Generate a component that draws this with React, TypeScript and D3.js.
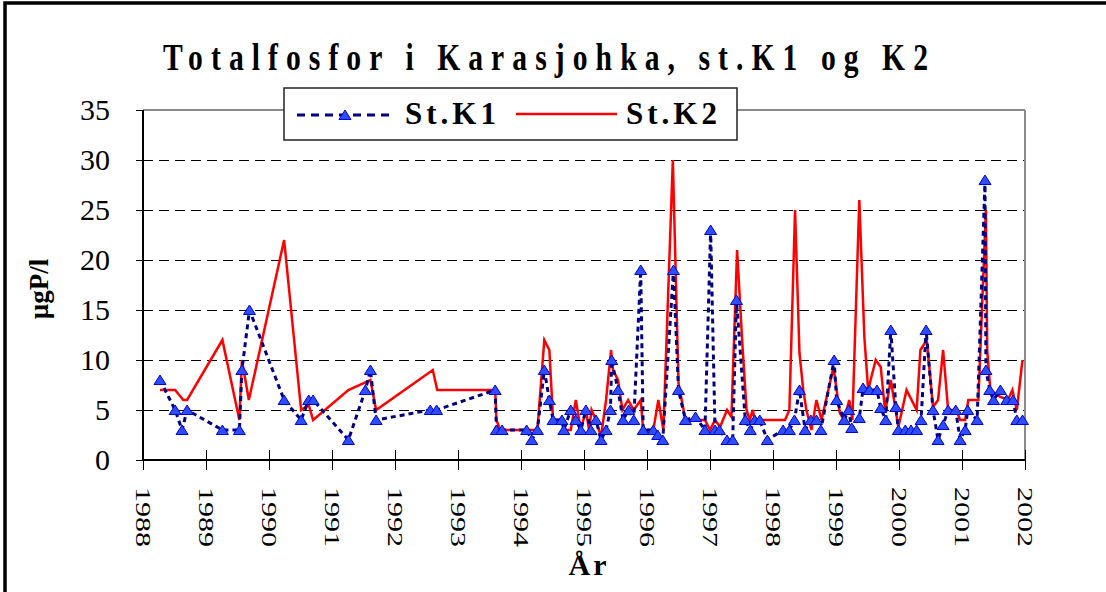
import React from "react";
import * as d3 from "d3";

// St.K1 - prøvetidspunkt (desimalår) og totalfosfor (µgP/l)
const k1Years = [
  1988.27, 1988.51, 1988.62, 1988.7, 1989.26, 1989.53, 1989.57, 1989.69, 1990.24, 1990.51,
  1990.63, 1990.7, 1991.26, 1991.53, 1991.61, 1991.7, 1992.56, 1992.66, 1993.59, 1993.61,
  1993.7, 1994.09, 1994.17, 1994.26, 1994.37, 1994.45, 1994.51, 1994.65, 1994.68, 1994.79,
  1994.87, 1994.95, 1995.03, 1995.11, 1995.19, 1995.27, 1995.35, 1995.42, 1995.44, 1995.54,
  1995.62, 1995.71, 1995.79, 1995.9, 1995.94, 1996.1, 1996.17, 1996.25, 1996.42, 1996.5,
  1996.61, 1996.77, 1996.92, 1997.01, 1997.08, 1997.15, 1997.27, 1997.36, 1997.42, 1997.56,
  1997.64, 1997.71, 1997.79, 1997.91, 1998.16, 1998.26, 1998.34, 1998.42, 1998.51, 1998.6,
  1998.69, 1998.76, 1998.97, 1999.01, 1999.13, 1999.2, 1999.25, 1999.37, 1999.43, 1999.53,
  1999.65, 1999.71, 1999.79, 1999.87, 1999.95, 1999.99, 2000.1, 2000.19, 2000.28, 2000.35,
  2000.43, 2000.54, 2000.62, 2000.7, 2000.78, 2000.9, 2000.97, 2001.05, 2001.09, 2001.24,
  2001.365, 2001.38, 2001.44, 2001.5, 2001.61, 2001.71, 2001.81, 2001.87, 2001.96,
];
const k1Values = [
  8, 5, 3, 5, 3, 3, 9, 15, 6, 4,
  6, 6, 2, 7, 9, 4, 5, 5, 7, 3,
  3, 3, 2, 3, 9, 6, 4, 4, 3, 5,
  4, 3, 5, 3, 4, 2, 3, 5, 10, 7,
  4, 5, 4, 19, 3, 3, 2.5, 2, 19, 7,
  4, 4.3, 3, 23, 3, 3, 2, 2, 16, 4,
  3, 4, 4, 2, 3, 3, 4, 7, 3, 4,
  4, 3, 10, 6, 4, 5, 3.2, 4.2, 7.2, 7,
  7, 5.2, 4, 13, 5.3, 3, 3, 3, 3, 4,
  13, 5, 2, 3.5, 5, 5, 2, 3, 5, 4,
  28, 9, 7, 6, 7, 6, 6, 4, 4,
];

// St.K2
const k2Years = [
  1988.27, 1988.51, 1988.64, 1988.7, 1989.26, 1989.53, 1989.57, 1989.68, 1990.24, 1990.51,
  1990.63, 1990.7, 1991.26, 1991.61, 1991.7, 1992.6, 1992.67, 1993.59, 1993.61, 1993.67,
  1994.26, 1994.37, 1994.45, 1994.51, 1994.65, 1994.68, 1994.79, 1994.87, 1994.95, 1995.03,
  1995.08, 1995.12, 1995.19, 1995.27, 1995.35, 1995.43, 1995.46, 1995.54, 1995.61, 1995.7,
  1995.79, 1995.9, 1995.94, 1996.1, 1996.18, 1996.26, 1996.41, 1996.5, 1996.61, 1996.92,
  1997.0, 1997.08, 1997.16, 1997.27, 1997.34, 1997.43, 1997.51, 1997.58, 1997.63, 1997.68,
  1997.71, 1997.9, 1998.19, 1998.26, 1998.35, 1998.42, 1998.48, 1998.53, 1998.61, 1998.69,
  1998.77, 1998.96, 1999.06, 1999.13, 1999.21, 1999.26, 1999.37, 1999.45, 1999.51, 1999.63,
  1999.71, 1999.78, 1999.87, 1999.99, 2000.12, 2000.28, 2000.34, 2000.44, 2000.54, 2000.62,
  2000.7, 2000.78, 2000.91, 2000.97, 2001.05, 2001.1, 2001.26, 2001.38, 2001.4, 2001.45,
  2001.61, 2001.73, 2001.8, 2001.87, 2001.96,
];
const k2Values = [
  7, 7, 6, 6, 12, 4, 10, 6, 22, 5,
  5.5, 4, 7, 8, 5, 9, 7, 7, 4, 3,
  3, 12, 11, 4, 4, 3, 3, 6, 3, 5,
  3, 5, 4, 2.3, 6, 11, 9, 8, 5, 6,
  5, 6, 3, 3, 6, 3, 30, 7.7, 4, 4,
  3, 4, 3.3, 5, 4.3, 21, 12, 5, 4, 5,
  4, 4, 4, 5, 25, 10.7, 7, 5, 3, 6,
  4, 9.3, 4.7, 4, 6, 4, 26, 12.3, 7, 10,
  9.3, 4.8, 8, 3.3, 7, 5, 11, 12, 5.3, 6,
  11, 5, 5, 4, 4, 6, 6, 25, 11, 7,
  6.3, 6, 7, 5, 10,
];

const yTicks = [0, 5, 10, 15, 20, 25, 30, 35];
const xTickYears = [1988, 1989, 1990, 1991, 1992, 1993, 1994, 1995, 1996, 1997, 1998, 1999, 2000, 2001, 2002];

const title = "Totalfosfor i Karasjohka, st.K1 og K2";
const yTitle = "µgP/l";
const xTitle = "År";
const seriesNames = ["St.K1", "St.K2"];

const W = 1106;
const H = 592;
const margin = { top: 110, right: 81, bottom: 132, left: 143 };
const serif = "'Liberation Serif', 'Times New Roman', serif";

function Triangle({ x, y }: { x: number; y: number }) {
  return (
    <path
      d={`M${x},${y - 5} L${x + 6},${y + 4.5} L${x - 6},${y + 4.5} Z`}
      fill="#2d4dff"
      stroke="#0000d8"
      strokeWidth={1}
    />
  );
}

export default function App() {
  const x = d3.scaleLinear([1988, 2002], [margin.left, W - margin.right]);
  const y = d3.scaleLinear([0, 35], [H - margin.bottom, margin.top]);

  const k1 = k1Years.map((t, i) => [t, k1Values[i]] as [number, number]);
  const k2 = k2Years.map((t, i) => [t, k2Values[i]] as [number, number]);

  const line = d3
    .line<[number, number]>()
    .x((d) => x(d[0]))
    .y((d) => y(d[1]));

  const x0 = x(1988);
  const x1 = x(2002);
  const yb = y(0);
  const yt = y(35);

  return (
    <svg
      width={W}
      height={H}
      style={{ position: "absolute", left: 0, top: 0, background: "#fff" }}
      fontFamily={serif}
    >
      <rect x={0} y={0} width={W} height={H} fill="#fff" />
      {/* ytre ramme */}
      <rect x={5} y={3} width={W + 20} height={H + 20} fill="none" stroke="#000" strokeWidth={3.5} />

      {/* tittel - smal, sperret skrift */}
      <g transform="translate(163,70) scale(0.8,1)">
        <text x={0} y={0} fontSize={37} fontWeight="bold" textLength={765 / 0.8} lengthAdjust="spacing">
          {title}
        </text>
      </g>

      {/* rutenett */}
      {yTicks.filter((v) => v > 0 && v < 35).map((v) => (
        <line
          key={v}
          x1={x0}
          x2={x1}
          y1={y(v) + 0.5}
          y2={y(v) + 0.5}
          stroke="#000"
          strokeWidth={1}
          strokeDasharray="10,6"
        />
      ))}

      {/* plottramme */}
      <line x1={x0} x2={x1} y1={yt} y2={yt} stroke="#8a8a8a" strokeWidth={2} />
      <line x1={x1} x2={x1} y1={yt} y2={yb} stroke="#8a8a8a" strokeWidth={2} />

      {/* y-akse */}
      <line x1={x0} x2={x0} y1={yt} y2={yb} stroke="#000" strokeWidth={2} />
      {yTicks.map((v) => (
        <g key={v}>
          <line x1={x0 - 7} x2={x0} y1={y(v) + 0.5} y2={y(v) + 0.5} stroke="#000" strokeWidth={1} />
          <text x={110} y={y(v)} dy="0.34em" textAnchor="end" fontSize={30}>
            {v}
          </text>
        </g>
      ))}
      <text
        transform={`translate(48,${(yt + yb) / 2 + 4}) rotate(-90)`}
        textAnchor="middle"
        fontSize={27}
        fontWeight="bold"
      >
        {yTitle}
      </text>

      {/* x-akse */}
      <line x1={x0} x2={x1} y1={yb} y2={yb} stroke="#000" strokeWidth={2} />
      {xTickYears.map((t) => (
        <g key={t}>
          <line x1={x(t) + 0.5} x2={x(t) + 0.5} y1={yb - 10} y2={yb + 10} stroke="#000" strokeWidth={1} />
          <text
            transform={`translate(${x(t)},487) rotate(90)`}
            dy="0.34em"
            fontSize={22}
            textLength={60}
            lengthAdjust="spacingAndGlyphs"
          >
            {t}
          </text>
        </g>
      ))}
      <text x={589} y={575} textAnchor="middle" fontSize={30} fontWeight="bold" letterSpacing={3}>
        {xTitle}
      </text>

      {/* serier */}
      <path d={line(k2) ?? ""} fill="none" stroke="#ff0000" strokeWidth={2.5} />
      <path d={line(k1) ?? ""} fill="none" stroke="#000080" strokeWidth={3} strokeDasharray="5,4" />
      {k1.map((d, i) => (
        <Triangle key={i} x={x(d[0])} y={y(d[1])} />
      ))}

      {/* tegnforklaring */}
      <rect x={284} y={88} width={453} height={52} fill="#fff" stroke="#222" strokeWidth={1.5} />
      <line x1={297} x2={393} y1={115} y2={115} stroke="#000080" strokeWidth={3} strokeDasharray="8,6" />
      <Triangle x={345} y={115} />
      <text x={405} y={124} fontSize={31} fontWeight="bold" letterSpacing={4}>
        {seriesNames[0]}
      </text>
      <line x1={516} x2={617} y1={114} y2={114} stroke="#ff0000" strokeWidth={2.5} />
      <text x={626} y={124} fontSize={31} fontWeight="bold" letterSpacing={4}>
        {seriesNames[1]}
      </text>
    </svg>
  );
}
